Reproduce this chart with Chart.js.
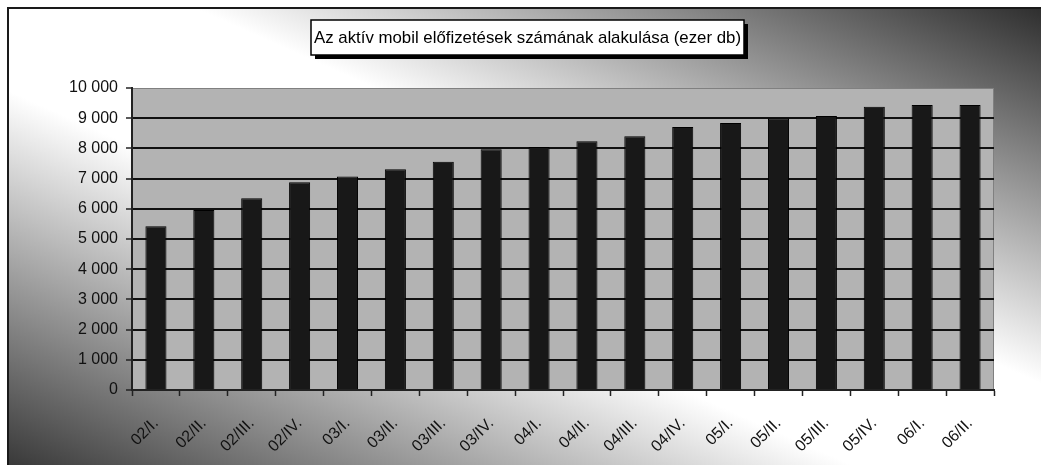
<!DOCTYPE html>
<html>
<head>
<meta charset="utf-8">
<script src="https://cdn.jsdelivr.net/npm/chart.js@4.4.1/dist/chart.umd.min.js"></script>
<style>
  html, body { margin: 0; padding: 0; background: #fff; }
  #wrap { width: 1041px; height: 465px; position: relative; }
</style>
</head>
<body>
<div id="wrap"><canvas id="c"></canvas></div>
<script>
const chartTitle = 'Az aktív mobil előfizetések számának alakulása (ezer db)';
const categories = ['02/I.', '02/II.', '02/III.', '02/IV.', '03/I.', '03/II.', '03/III.', '03/IV.',
                    '04/I.', '04/II.', '04/III.', '04/IV.', '05/I.', '05/II.', '05/III.', '05/IV.',
                    '06/I.', '06/II.'];
const subscriptions = [5420, 5960, 6350, 6880, 7070, 7310, 7560, 7970,
                       8050, 8240, 8400, 8710, 8840, 8990, 9070, 9380,
                       9440, 9440];
const yMin = 0, yMax = 10000, yStep = 1000;

const FONT = '"Liberation Sans", Arial, sans-serif';

function fmt(v) {
  return String(v).replace(/\B(?=(\d{3})+(?!\d))/g, ' ');
}

const backgroundPlugin = {
  id: 'bgFrame',
  beforeDraw(chart) {
    const ctx = chart.ctx;
    const W = chart.width, H = chart.height;
    ctx.save();
    ctx.fillStyle = '#ffffff';
    ctx.fillRect(0, 0, W, H);
    // gradient panel (white along main diagonal, dark toward other corners)
    const x0 = 8, y0 = 8, pw = W - x0 + 2, ph = H - y0 + 2;
    ctx.save();
    ctx.setTransform(pw, 0, 0, ph, x0, y0);
    const g = ctx.createLinearGradient(1, 0, 0, 1);
    g.addColorStop(0, '#2e2e2e');
    g.addColorStop(0.41, '#ffffff');
    g.addColorStop(0.59, '#ffffff');
    g.addColorStop(1, '#383838');
    ctx.fillStyle = g;
    ctx.fillRect(0, 0, 1, 1);
    ctx.restore();
    // frame
    ctx.strokeStyle = '#1a1a1a';
    ctx.lineWidth = 2;
    ctx.beginPath();
    ctx.moveTo(x0, H + 2);
    ctx.lineTo(x0, y0);
    ctx.lineTo(W + 2, y0);
    ctx.stroke();
    // plot area
    const a = chart.chartArea;
    ctx.fillStyle = '#b3b3b3';
    ctx.fillRect(a.left, a.top, a.right - a.left, a.bottom - a.top);
    ctx.strokeStyle = '#808080';
    ctx.lineWidth = 1;
    ctx.strokeRect(a.left + 0.5, a.top + 0.5, a.right - a.left - 1, a.bottom - a.top - 1);
    // title box
    const bx = 311, by = 20, bw = 433, bh = 35;
    ctx.fillStyle = '#000';
    ctx.fillRect(bx + 4, by + 4, bw, bh);
    ctx.fillStyle = '#fff';
    ctx.fillRect(bx, by, bw, bh);
    ctx.strokeStyle = '#000';
    ctx.lineWidth = 1.5;
    ctx.strokeRect(bx, by, bw, bh);
    ctx.fillStyle = '#000';
    ctx.font = '17px ' + FONT;
    ctx.textAlign = 'center';
    ctx.textBaseline = 'middle';
    ctx.fillText(chartTitle, bx + bw / 2, by + bh / 2 + 1, bw - 6);
    ctx.restore();
  }
};

new Chart(document.getElementById('c'), {
  type: 'bar',
  data: {
    labels: categories,
    datasets: [{
      data: subscriptions,
      backgroundColor: '#181818',
      borderColor: '#000000',
      borderWidth: 1,
      barPercentage: 0.44,
      categoryPercentage: 1.0
    }]
  },
  options: {
    responsive: true,
    maintainAspectRatio: false,
    animation: false,
    layout: { padding: { left: 0, top: 88, right: 47, bottom: 0 } },
    plugins: {
      legend: { display: false },
      title: { display: false },
      tooltip: { enabled: false }
    },
    scales: {
      x: {
        afterFit(scale) { scale.height = 75; },
        grid: {
          offset: true,
          drawOnChartArea: false,
          drawTicks: true,
          tickLength: 6,
          tickColor: '#222',
          tickWidth: 1.5
        },
        border: { display: true, color: '#222', width: 2 },
        ticks: {
          autoSkip: false,
          minRotation: 45,
          maxRotation: 45,
          padding: 18,
          color: '#111',
          font: { family: FONT, size: 16 }
        }
      },
      y: {
        min: yMin,
        max: yMax,
        afterFit(scale) { scale.width = 132; },
        grid: {
          color: (c) => (c.tick && c.tick.value === yMax) ? 'rgba(0,0,0,0)' : '#111',
          lineWidth: 2,
          tickLength: 6,
          tickColor: '#222',
          tickWidth: 1.5
        },
        border: { display: true, color: '#222', width: 2 },
        ticks: {
          stepSize: yStep,
          padding: 8,
          color: '#111',
          font: { family: FONT, size: 16 },
          callback: (v) => fmt(v)
        }
      }
    }
  },
  plugins: [backgroundPlugin]
});
</script>
</body>
</html>
